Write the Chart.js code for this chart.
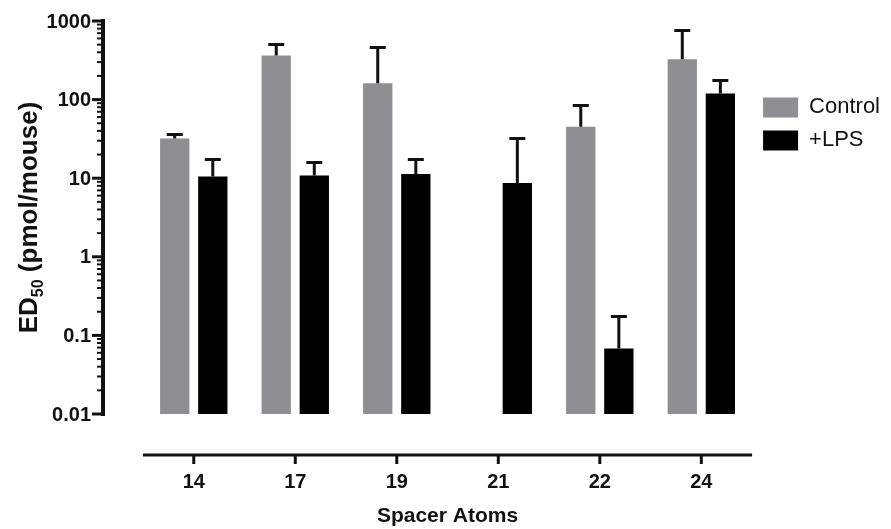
<!DOCTYPE html>
<html>
<head>
<meta charset="utf-8">
<script src="https://cdn.jsdelivr.net/npm/chart.js@4.4.0/dist/chart.umd.min.js"></script>
<style>
  html, body { margin: 0; padding: 0; background: #fff; }
  #wrap { width: 891px; height: 529px; }
</style>
</head>
<body>
<div id="wrap"><canvas id="ed50-chart" width="891" height="529"></canvas></div>
<script>
// spacer atom groups
const spacerAtoms = ['14', '17', '19', '21', '22', '24'];

// ED50 means (pmol/mouse) and the top of each error bar
const controlValues = [32, 365, 162, null, 45, 325];
const controlErrTop = [37, 515, 470, null, 85, 760];
const lpsValues = [10.5, 10.8, 11.3, 8.7, 0.068, 120];
const lpsErrTop = [17.8, 16.3, 17.6, 32, 0.176, 177];

// y axis ticks
const yMajorTicks = [0.01, 0.1, 1, 10, 100, 1000];
const yTickLabels = ['0.01', '0.1', '1', '10', '100', '1000'];
const yMinorSteps = [2, 3, 4, 5, 6, 7, 8, 9];

const GRAY = '#8e8e93';
const INK = '#111';
const FONT = '"Liberation Sans", Arial, Helvetica, sans-serif';

const ctx = document.getElementById('ed50-chart').getContext('2d');

// error bars: only the upper whisker, as in the figure
const errorBars = {
    id: 'errorBars',
    afterDatasetsDraw(chart) {
        const c = chart.ctx;
        const y = chart.scales.y;
        c.save();
        c.strokeStyle = INK;
        c.lineWidth = 3;
        chart.data.datasets.forEach((ds, di) => {
            const meta = chart.getDatasetMeta(di);
            meta.data.forEach((bar, i) => {
                const top = ds.errTop[i];
                if (ds.data[i] == null || top == null) return;
                const yt = Math.round(y.getPixelForValue(top)) + 0.5;
                c.beginPath();
                c.moveTo(bar.x, bar.y);
                c.lineTo(bar.x, yt);
                c.moveTo(bar.x - 8, yt);
                c.lineTo(bar.x + 8, yt);
                c.stroke();
            });
        });
        c.restore();
    }
};

// Prism style offset axes drawn from the chart's own scales
const offsetAxes = {
    id: 'offsetAxes',
    afterDraw(chart) {
        const c = chart.ctx;
        const {left, right, top, bottom} = chart.chartArea;
        const x = chart.scales.x;
        const y = chart.scales.y;
        const axisX = left - 40;
        const axisY = bottom + 41;

        c.save();
        c.strokeStyle = INK;
        c.fillStyle = INK;

        // y axis
        c.lineWidth = 4;
        c.beginPath();
        c.moveTo(axisX, y.getPixelForValue(1000) - 2);
        c.lineTo(axisX, y.getPixelForValue(0.01) + 2);
        c.stroke();
        c.lineWidth = 3;
        yMajorTicks.forEach((v, i) => {
            const py = y.getPixelForValue(v);
            c.beginPath();
            c.moveTo(axisX - 11, py);
            c.lineTo(axisX, py);
            c.stroke();
            if (i < yMajorTicks.length - 1) {
                yMinorSteps.forEach(m => {
                    const pm = y.getPixelForValue(v * m);
                    c.lineWidth = 2;
                    c.beginPath();
                    c.moveTo(axisX - 6, pm);
                    c.lineTo(axisX, pm);
                    c.stroke();
                    c.lineWidth = 3;
                });
            }
        });
        c.font = 'bold 20px ' + FONT;
        c.textAlign = 'right';
        c.textBaseline = 'middle';
        yMajorTicks.forEach((v, i) => {
            c.fillText(yTickLabels[i], axisX - 12, y.getPixelForValue(v) + 1);
        });

        // x axis
        c.lineWidth = 3;
        c.beginPath();
        c.moveTo(left, axisY);
        c.lineTo(right, axisY);
        c.stroke();
        c.textAlign = 'center';
        spacerAtoms.forEach((lab, i) => {
            const px = x.getPixelForValue(i);
            c.beginPath();
            c.moveTo(px, axisY);
            c.lineTo(px, axisY + 9);
            c.stroke();
            c.fillText(lab, px, axisY + 27);
        });
        c.font = 'bold 21px ' + FONT;
        c.fillText('Spacer Atoms', (left + right) / 2, axisY + 61);

        // y title with subscript
        c.translate(28, (top + bottom) / 2);
        c.rotate(-Math.PI / 2);
        const big = 'bold 26px ' + FONT;
        const small = 'bold 16px ' + FONT;
        c.font = big;
        const w1 = c.measureText('ED').width;
        const w3 = c.measureText(' (pmol/mouse)').width;
        c.font = small;
        const w2 = c.measureText('50').width;
        let tx = -(w1 + w2 + w3) / 2;
        c.textAlign = 'left';
        c.textBaseline = 'alphabetic';
        c.font = big;
        c.fillText('ED', tx, 9);
        tx += w1;
        c.font = small;
        c.fillText('50', tx, 15);
        tx += w2;
        c.font = big;
        c.fillText(' (pmol/mouse)', tx, 9);
        c.restore();
    }
};

const chart = new Chart(ctx, {
    type: 'bar',
    data: {
        labels: spacerAtoms,
        datasets: [{
            label: 'Control',
            data: controlValues,
            errTop: controlErrTop,
            backgroundColor: GRAY,
            borderWidth: 0,
            categoryPercentage: 0.75,
            barPercentage: 0.77
        }, {
            label: '+LPS',
            data: lpsValues,
            errTop: lpsErrTop,
            backgroundColor: '#000',
            borderWidth: 0,
            categoryPercentage: 0.75,
            barPercentage: 0.77
        }]
    },
    options: {
        responsive: false,
        animation: false,
        layout: {
            padding: { left: 143, top: 21, bottom: 115, right: 1 }
        },
        scales: {
            x: { display: false },
            y: { type: 'logarithmic', min: 0.01, max: 1000, display: false }
        },
        plugins: {
            tooltip: { enabled: false },
            legend: {
                position: 'right',
                align: 'start',
                title: { display: true, text: ' ', font: { size: 12 }, padding: { top: 0, bottom: 50 } },
                labels: {
                    boxWidth: 35,
                    boxHeight: 20,
                    padding: 11,
                    color: INK,
                    font: { family: FONT, size: 22 }
                }
            }
        }
    },
    plugins: [errorBars, offsetAxes]
});
</script>
</body>
</html>
